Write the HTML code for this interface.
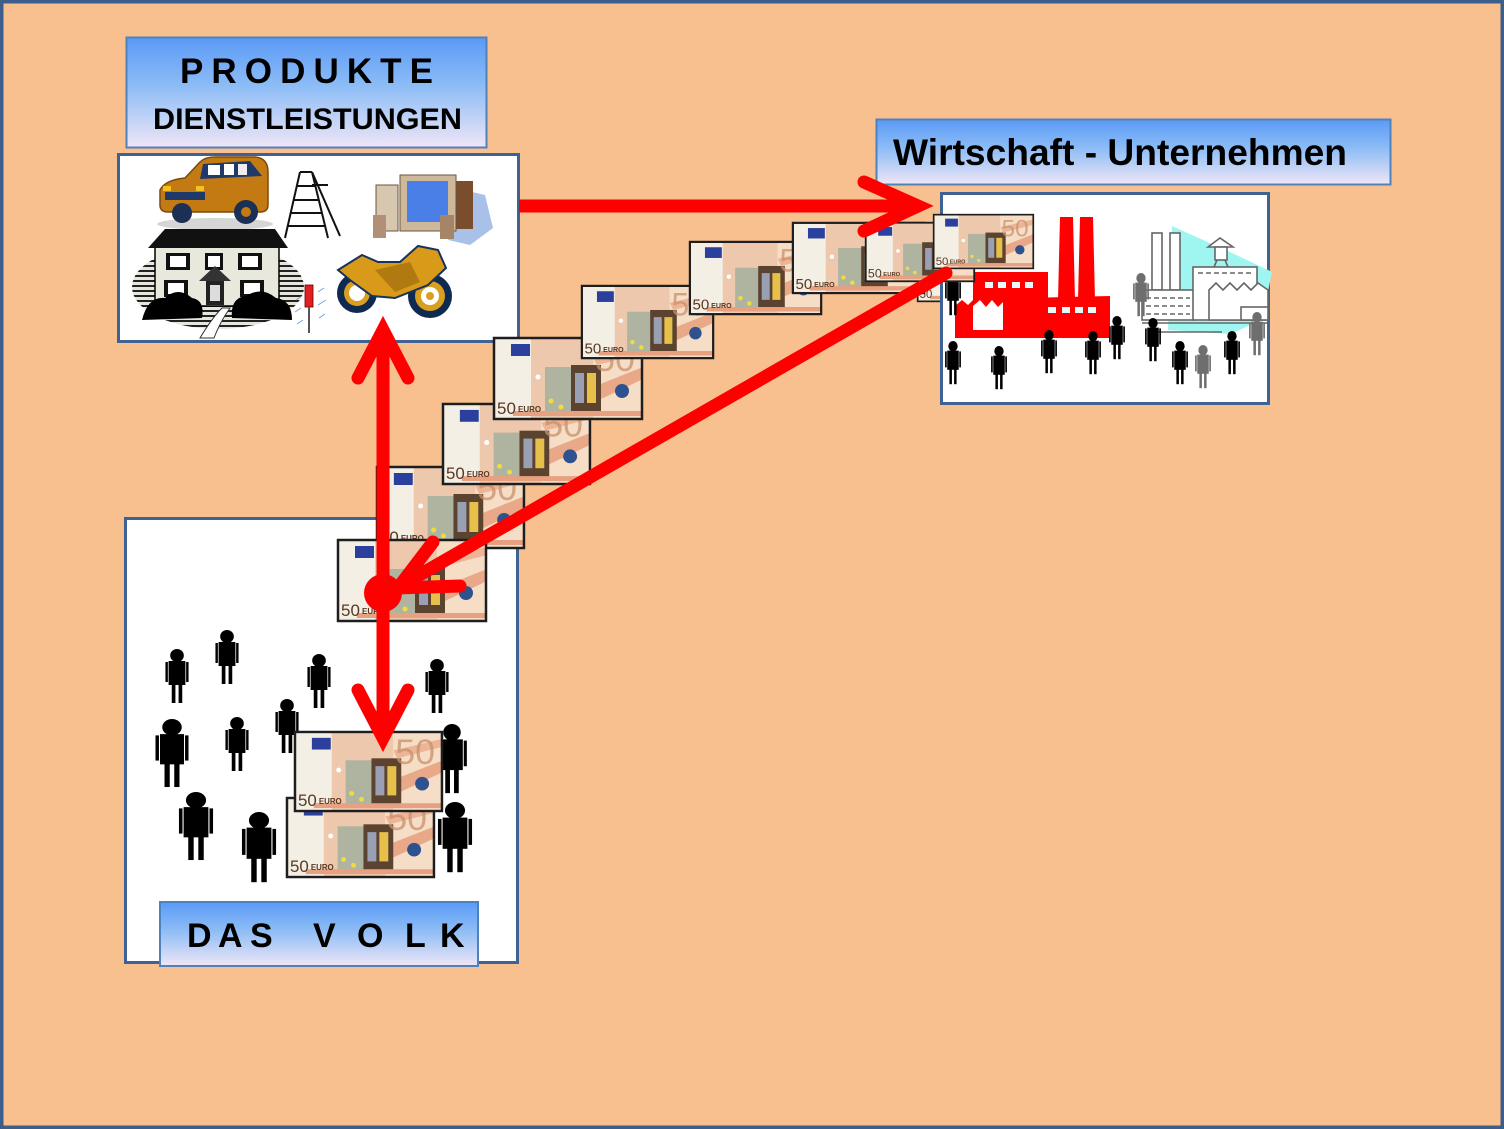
<!DOCTYPE html>
<html><head><meta charset="utf-8"><style>
html,body{margin:0;padding:0;background:#F9C08F;}
svg{display:block;}
text{font-family:"Liberation Sans",Arial,sans-serif;}
</style></head><body>
<svg width="1504" height="1129" viewBox="0 0 1504 1129" xmlns="http://www.w3.org/2000/svg">
<defs>
<linearGradient id="lg" x1="0" y1="0" x2="0" y2="1">
<stop offset="0" stop-color="#5A9AF6"/><stop offset="0.45" stop-color="#8EBDF6"/><stop offset="1" stop-color="#EFE6F6"/>
</linearGradient>
<pattern id="stripes" width="8" height="5" patternUnits="userSpaceOnUse">
<rect width="8" height="5" fill="#E6E6DC"/><rect y="0" width="8" height="2" fill="#222"/>
</pattern>
</defs>
<rect x="0" y="0" width="1504" height="1129" fill="#F9C08F"/>
<rect x="1.75" y="1.75" width="1500.5" height="1125.5" fill="none" stroke="#3D5E8B" stroke-width="3.5"/>

<!-- PRODUKTE label -->
<rect x="126.5" y="37.5" width="360" height="110" fill="url(#lg)" stroke="#4F81BD" stroke-width="2"/>
<text x="180" y="83" font-size="35" font-weight="bold" fill="#000" textLength="253" lengthAdjust="spacing">PRODUKTE</text>
<text x="153" y="129" font-size="30" font-weight="bold" fill="#000" textLength="309" lengthAdjust="spacingAndGlyphs">DIENSTLEISTUNGEN</text>

<!-- Products box -->
<rect x="118.5" y="154.5" width="400" height="187" fill="#fff" stroke="#3F6294" stroke-width="3"/>
<!-- van -->
<ellipse cx="215" cy="224" rx="58" ry="6" fill="#D6D6D6"/>
<path d="M160,205 L160,190 Q165,180 185,178 L200,162 Q205,157 215,157 L255,157 Q268,158 268,172 L268,205 Q268,212 260,212 L168,212 Q160,212 160,205 Z" fill="#C47A12" stroke="#7A4A0A" stroke-width="1.5"/>
<polygon points="203,164 250,161 262,176 200,179" fill="#1F3A6A"/>
<rect x="208" y="165" width="12" height="10" fill="#fff"/><rect x="224" y="164" width="10" height="11" fill="#fff"/><rect x="238" y="164" width="9" height="11" fill="#eee"/>
<rect x="165" y="192" width="40" height="8" fill="#1F3A6A"/>
<rect x="163" y="186" width="8" height="5" fill="#F2C020"/><rect x="196" y="186" width="8" height="5" fill="#F2C020"/>
<circle cx="182" cy="213" r="10" fill="#1C2F55"/><circle cx="246" cy="212" r="12" fill="#1C2F55"/>
<circle cx="246" cy="212" r="5" fill="#C47A12"/>
<!-- house -->
<ellipse cx="218" cy="287" rx="86" ry="42" fill="url(#stripes)"/>
<rect x="155" y="244" width="124" height="62" fill="#E8E8DC" stroke="#000" stroke-width="1.5"/>
<polygon points="148,248 165,229 275,229 288,248" fill="#111"/>
<rect x="166" y="253" width="24" height="17" fill="#111"/><rect x="170" y="256" width="16" height="11" fill="#fff"/>
<rect x="205" y="253" width="18" height="17" fill="#111"/><rect x="208" y="256" width="12" height="11" fill="#fff"/>
<rect x="238" y="253" width="24" height="17" fill="#111"/><rect x="242" y="256" width="16" height="11" fill="#fff"/>
<rect x="164" y="280" width="24" height="17" fill="#111"/><rect x="168" y="283" width="16" height="11" fill="#fff"/>
<rect x="240" y="280" width="24" height="17" fill="#111"/><rect x="244" y="283" width="16" height="11" fill="#fff"/>
<polygon points="199,281 215,266 231,281" fill="#333"/>
<rect x="206" y="281" width="18" height="24" fill="#222"/><rect x="210" y="285" width="10" height="16" fill="#ddd"/>
<path d="M142,320 Q148,296 165,298 Q178,286 192,298 Q205,300 202,318 Z" fill="#000"/>
<path d="M232,318 Q230,298 246,296 Q262,286 276,298 Q292,300 292,320 Z" fill="#000"/>
<path d="M200,338 Q212,318 222,308 L230,308 Q220,322 214,338 Z" fill="#fff" stroke="#333" stroke-width="1"/>
<!-- ladder -->
<g stroke="#111" stroke-width="2" fill="none">
<line x1="300" y1="172" x2="285" y2="238"/><line x1="312" y1="172" x2="328" y2="238"/>
<line x1="312" y1="172" x2="340" y2="236"/><line x1="300" y1="172" x2="312" y2="172"/>
<line x1="297" y1="186" x2="315" y2="186"/><line x1="294" y1="200" x2="318" y2="200"/>
<line x1="291" y1="213" x2="322" y2="213"/><line x1="288" y1="226" x2="325" y2="226"/>
<line x1="312" y1="185" x2="328" y2="185"/>
</g>
<!-- computer -->
<polygon points="455,188 485,195 493,228 470,245 448,240" fill="#A9C1E9"/>
<rect x="376" y="185" width="22" height="46" fill="#D7C7AE" stroke="#6B5440" stroke-width="1"/>
<rect x="455" y="181" width="18" height="48" fill="#7A4E2C"/>
<rect x="400" y="175" width="56" height="56" fill="#CDB89C" stroke="#6B5440" stroke-width="1"/>
<rect x="407" y="181" width="41" height="41" fill="#4A7FE8"/>
<rect x="373" y="215" width="13" height="23" fill="#B29078"/><rect x="440" y="215" width="14" height="24" fill="#A68468"/>
<!-- motorcycle -->
<circle cx="357" cy="293" r="20" fill="#0F2A50"/><circle cx="357" cy="293" r="13" fill="#D9A020"/><circle cx="357" cy="293" r="8" fill="#fff"/>
<circle cx="430" cy="296" r="22" fill="#0F2A50"/><circle cx="430" cy="296" r="15" fill="#D9A020"/><circle cx="430" cy="296" r="9" fill="#fff"/><circle cx="430" cy="296" r="4" fill="#D9A020"/>
<path d="M338,270 L362,255 L378,262 L400,262 L418,246 L438,250 L446,268 L428,285 L395,298 L372,296 L350,280 Z" fill="#D99A1A" stroke="#16325E" stroke-width="2"/>
<path d="M375,270 L410,262 L420,282 L395,292 Z" fill="#B07A10"/>
<!-- screwdriver -->
<rect x="305" y="285" width="8" height="22" fill="#E02020" stroke="#600" stroke-width="0.8"/>
<line x1="309" y1="307" x2="309" y2="333" stroke="#555" stroke-width="2"/>
<g stroke="#7AA0D8" stroke-width="1"><line x1="296" y1="300" x2="302" y2="296"/><line x1="295" y1="312" x2="301" y2="308"/><line x1="297" y1="324" x2="303" y2="320"/><line x1="318" y1="292" x2="324" y2="288"/><line x1="318" y1="305" x2="326" y2="300"/><line x1="319" y1="318" x2="325" y2="314"/></g>

<!-- Wirtschaft label -->
<rect x="876.5" y="119.5" width="514" height="65" fill="url(#lg)" stroke="#4F81BD" stroke-width="2"/>
<text x="893" y="165" font-size="37" font-weight="bold" fill="#000" textLength="454" lengthAdjust="spacingAndGlyphs">Wirtschaft - Unternehmen</text>

<!-- hidden note J -->
<g transform="translate(917,245) scale(0.667,0.687)">
<rect width="150" height="83" fill="#F3EFE4"/><rect x="38" width="62" height="83" fill="#EEC8AC"/><rect x="20" y="74" width="130" height="5" fill="#E7A080"/>
<text x="4" y="77" font-size="17" fill="#5A3822">50</text>
<rect x="1" y="1" width="148" height="81" fill="none" stroke="#1E1E1E" stroke-width="2.5"/></g>

<!-- Wirtschaft box -->
<rect x="941.5" y="193.5" width="327" height="210" fill="#fff" stroke="#3F6294" stroke-width="3"/>
<path d="M1172,226 C1212,244 1248,260 1272,272 L1262,320 L1230,334 L1168,330 Z" fill="#9FF6F1"/>
<g stroke="#666" stroke-width="1.6" fill="#fff">
<rect x="1152" y="233" width="10" height="57"/><rect x="1170" y="233" width="10" height="57"/>
<rect x="1142" y="290" width="52" height="30"/>
<rect x="1193" y="267" width="64" height="53"/>
<polygon points="1209,320 1209,290 1216,283 1223,290 1230,283 1237,290 1244,283 1251,290 1258,283 1268,290 1268,320"/>
<rect x="1241" y="307" width="27" height="13"/>
<polygon points="1208,247 1220,238 1233,247"/>
<rect x="1215" y="247" width="12" height="13"/>
<line x1="1217" y1="260" x2="1214" y2="267"/><line x1="1225" y1="260" x2="1228" y2="267"/>
<line x1="1142" y1="323" x2="1268" y2="323"/><line x1="1150" y1="332" x2="1222" y2="332"/>
</g>
<g stroke="#666" stroke-width="1.6" stroke-dasharray="5,3"><line x1="1198" y1="273" x2="1252" y2="273"/><line x1="1146" y1="298" x2="1190" y2="298"/><line x1="1146" y1="306" x2="1190" y2="306"/><line x1="1146" y1="314" x2="1190" y2="314"/></g>
<g fill="#FF0000">
<polygon points="1060,217 1073,217 1075,300 1058,300"/>
<polygon points="1080,217 1093,217 1095,300 1078,300"/>
<rect x="973" y="272" width="75" height="30"/>
<polygon points="955,338 955,306 962,300 968,305 973,300 1003,300 1025,298 1110,296 1110,338"/>
</g>
<polygon points="973,330 973,306 980,300 986,307 992,300 998,307 1003,302 1003,330" fill="#fff"/>
<g fill="#E8F8FF"><rect x="985" y="282" width="8" height="6"/><rect x="998" y="282" width="8" height="6"/><rect x="1012" y="282" width="8" height="6"/><rect x="1025" y="282" width="8" height="6"/>
<rect x="1048" y="307" width="8" height="6"/><rect x="1062" y="307" width="8" height="6"/><rect x="1075" y="307" width="8" height="6"/><rect x="1088" y="307" width="8" height="6"/></g>
<g fill="#000">
<g transform="translate(953,341) scale(0.72,0.8)"><circle cy="6.5" r="6.5"/><rect x="-8" y="12" width="16" height="24"/><rect x="-11" y="13" width="2.3" height="20"/><rect x="8.7" y="13" width="2.3" height="20"/><rect x="-5" y="35" width="3.5" height="19"/><rect x="1.5" y="35" width="3.5" height="19"/></g>
<g transform="translate(999,346) scale(0.72,0.8)"><circle cy="6.5" r="6.5"/><rect x="-8" y="12" width="16" height="24"/><rect x="-11" y="13" width="2.3" height="20"/><rect x="8.7" y="13" width="2.3" height="20"/><rect x="-5" y="35" width="3.5" height="19"/><rect x="1.5" y="35" width="3.5" height="19"/></g>
<g transform="translate(1049,330) scale(0.72,0.8)"><circle cy="6.5" r="6.5"/><rect x="-8" y="12" width="16" height="24"/><rect x="-11" y="13" width="2.3" height="20"/><rect x="8.7" y="13" width="2.3" height="20"/><rect x="-5" y="35" width="3.5" height="19"/><rect x="1.5" y="35" width="3.5" height="19"/></g>
<g transform="translate(1093,331) scale(0.72,0.8)"><circle cy="6.5" r="6.5"/><rect x="-8" y="12" width="16" height="24"/><rect x="-11" y="13" width="2.3" height="20"/><rect x="8.7" y="13" width="2.3" height="20"/><rect x="-5" y="35" width="3.5" height="19"/><rect x="1.5" y="35" width="3.5" height="19"/></g>
<g transform="translate(1117,316) scale(0.72,0.8)"><circle cy="6.5" r="6.5"/><rect x="-8" y="12" width="16" height="24"/><rect x="-11" y="13" width="2.3" height="20"/><rect x="8.7" y="13" width="2.3" height="20"/><rect x="-5" y="35" width="3.5" height="19"/><rect x="1.5" y="35" width="3.5" height="19"/></g>
<g transform="translate(1180,341) scale(0.72,0.8)"><circle cy="6.5" r="6.5"/><rect x="-8" y="12" width="16" height="24"/><rect x="-11" y="13" width="2.3" height="20"/><rect x="8.7" y="13" width="2.3" height="20"/><rect x="-5" y="35" width="3.5" height="19"/><rect x="1.5" y="35" width="3.5" height="19"/></g>
<g transform="translate(1232,331) scale(0.72,0.8)"><circle cy="6.5" r="6.5"/><rect x="-8" y="12" width="16" height="24"/><rect x="-11" y="13" width="2.3" height="20"/><rect x="8.7" y="13" width="2.3" height="20"/><rect x="-5" y="35" width="3.5" height="19"/><rect x="1.5" y="35" width="3.5" height="19"/></g>
<g transform="translate(1153,318) scale(0.72,0.8)"><circle cy="6.5" r="6.5"/><rect x="-8" y="12" width="16" height="24"/><rect x="-11" y="13" width="2.3" height="20"/><rect x="8.7" y="13" width="2.3" height="20"/><rect x="-5" y="35" width="3.5" height="19"/><rect x="1.5" y="35" width="3.5" height="19"/></g>
<g transform="translate(953,272) scale(0.72,0.8)"><circle cy="6.5" r="6.5"/><rect x="-8" y="12" width="16" height="24"/><rect x="-11" y="13" width="2.3" height="20"/><rect x="8.7" y="13" width="2.3" height="20"/><rect x="-5" y="35" width="3.5" height="19"/><rect x="1.5" y="35" width="3.5" height="19"/></g>
</g>
<g fill="#6E6E6E">
<g transform="translate(1203,345) scale(0.72,0.8)"><circle cy="6.5" r="6.5"/><rect x="-8" y="12" width="16" height="24"/><rect x="-11" y="13" width="2.3" height="20"/><rect x="8.7" y="13" width="2.3" height="20"/><rect x="-5" y="35" width="3.5" height="19"/><rect x="1.5" y="35" width="3.5" height="19"/></g>
<g transform="translate(1257,312) scale(0.72,0.8)"><circle cy="6.5" r="6.5"/><rect x="-8" y="12" width="16" height="24"/><rect x="-11" y="13" width="2.3" height="20"/><rect x="8.7" y="13" width="2.3" height="20"/><rect x="-5" y="35" width="3.5" height="19"/><rect x="1.5" y="35" width="3.5" height="19"/></g>
<g transform="translate(1141,273) scale(0.72,0.8)"><circle cy="6.5" r="6.5"/><rect x="-8" y="12" width="16" height="24"/><rect x="-11" y="13" width="2.3" height="20"/><rect x="8.7" y="13" width="2.3" height="20"/><rect x="-5" y="35" width="3.5" height="19"/><rect x="1.5" y="35" width="3.5" height="19"/></g>
</g>

<!-- Volk box -->
<rect x="125.5" y="518.5" width="392" height="444" fill="#fff" stroke="#3F6294" stroke-width="3"/>
<g fill="#000">
<g transform="translate(177,649) scale(1.05,1)"><circle cy="6.5" r="6.5"/><rect x="-8" y="12" width="16" height="24"/><rect x="-11" y="13" width="2.3" height="20"/><rect x="8.7" y="13" width="2.3" height="20"/><rect x="-5" y="35" width="3.5" height="19"/><rect x="1.5" y="35" width="3.5" height="19"/></g>
<g transform="translate(227,630) scale(1.05,1)"><circle cy="6.5" r="6.5"/><rect x="-8" y="12" width="16" height="24"/><rect x="-11" y="13" width="2.3" height="20"/><rect x="8.7" y="13" width="2.3" height="20"/><rect x="-5" y="35" width="3.5" height="19"/><rect x="1.5" y="35" width="3.5" height="19"/></g>
<g transform="translate(319,654) scale(1.05,1)"><circle cy="6.5" r="6.5"/><rect x="-8" y="12" width="16" height="24"/><rect x="-11" y="13" width="2.3" height="20"/><rect x="8.7" y="13" width="2.3" height="20"/><rect x="-5" y="35" width="3.5" height="19"/><rect x="1.5" y="35" width="3.5" height="19"/></g>
<g transform="translate(437,659) scale(1.05,1)"><circle cy="6.5" r="6.5"/><rect x="-8" y="12" width="16" height="24"/><rect x="-11" y="13" width="2.3" height="20"/><rect x="8.7" y="13" width="2.3" height="20"/><rect x="-5" y="35" width="3.5" height="19"/><rect x="1.5" y="35" width="3.5" height="19"/></g>
<g transform="translate(287,699) scale(1.05,1)"><circle cy="6.5" r="6.5"/><rect x="-8" y="12" width="16" height="24"/><rect x="-11" y="13" width="2.3" height="20"/><rect x="8.7" y="13" width="2.3" height="20"/><rect x="-5" y="35" width="3.5" height="19"/><rect x="1.5" y="35" width="3.5" height="19"/></g>
<g transform="translate(237,717) scale(1.05,1)"><circle cy="6.5" r="6.5"/><rect x="-8" y="12" width="16" height="24"/><rect x="-11" y="13" width="2.3" height="20"/><rect x="8.7" y="13" width="2.3" height="20"/><rect x="-5" y="35" width="3.5" height="19"/><rect x="1.5" y="35" width="3.5" height="19"/></g>
<g transform="translate(172,719) scale(1.5,1.26)"><circle cy="6.5" r="6.5"/><rect x="-8" y="12" width="16" height="24"/><rect x="-11" y="13" width="2.3" height="20"/><rect x="8.7" y="13" width="2.3" height="20"/><rect x="-5" y="35" width="3.5" height="19"/><rect x="1.5" y="35" width="3.5" height="19"/></g>
<g transform="translate(452,724) scale(1.35,1.28)"><circle cy="6.5" r="6.5"/><rect x="-8" y="12" width="16" height="24"/><rect x="-11" y="13" width="2.3" height="20"/><rect x="8.7" y="13" width="2.3" height="20"/><rect x="-5" y="35" width="3.5" height="19"/><rect x="1.5" y="35" width="3.5" height="19"/></g>
<g transform="translate(196,792) scale(1.55,1.26)"><circle cy="6.5" r="6.5"/><rect x="-8" y="12" width="16" height="24"/><rect x="-11" y="13" width="2.3" height="20"/><rect x="8.7" y="13" width="2.3" height="20"/><rect x="-5" y="35" width="3.5" height="19"/><rect x="1.5" y="35" width="3.5" height="19"/></g>
<g transform="translate(259,812) scale(1.55,1.3)"><circle cy="6.5" r="6.5"/><rect x="-8" y="12" width="16" height="24"/><rect x="-11" y="13" width="2.3" height="20"/><rect x="8.7" y="13" width="2.3" height="20"/><rect x="-5" y="35" width="3.5" height="19"/><rect x="1.5" y="35" width="3.5" height="19"/></g>
<g transform="translate(455,802) scale(1.55,1.3)"><circle cy="6.5" r="6.5"/><rect x="-8" y="12" width="16" height="24"/><rect x="-11" y="13" width="2.3" height="20"/><rect x="8.7" y="13" width="2.3" height="20"/><rect x="-5" y="35" width="3.5" height="19"/><rect x="1.5" y="35" width="3.5" height="19"/></g>
</g>

<!-- notes in Volk -->
<g transform="translate(286,797) scale(0.993,0.976)">
<rect width="150" height="83" fill="#F3EFE4"/><rect x="38" width="62" height="83" fill="#EEC8AC"/><rect x="100" width="50" height="83" fill="#F6DDC6"/>
<polygon points="100,50 150,30 150,42 108,62" fill="#E9A888"/><polygon points="100,20 150,8 150,16 104,28" fill="#EDB496"/>
<rect x="52" y="30" width="34" height="46" fill="#AEB4A0"/><rect x="78" y="28" width="30" height="48" fill="#5C4330"/><rect x="82" y="36" width="9" height="30" fill="#9AA0B4"/><rect x="94" y="36" width="9" height="30" fill="#E6C04A"/>
<text x="102" y="34" font-size="36" fill="#C8906C" opacity="0.75">50</text>
<rect x="18" y="7" width="19" height="12" fill="#2B3F9C"/><rect x="20" y="74" width="130" height="5" fill="#E7A080"/><circle cx="129" cy="54" r="7" fill="#2E528E"/>
<circle cx="58" cy="64" r="2.5" fill="#F0DC40"/><circle cx="68" cy="70" r="2.5" fill="#F0DC40"/><circle cx="45" cy="40" r="2.5" fill="#fff"/>
<text x="4" y="77" font-size="17" fill="#5A3822">50</text><text x="25" y="75" font-size="8" font-weight="bold" fill="#5A3822">EURO</text>
<rect x="1" y="1" width="148" height="81" fill="none" stroke="#1E1E1E" stroke-width="2.5"/></g>
<g transform="translate(294,731) scale(0.993,0.976)">
<rect width="150" height="83" fill="#F3EFE4"/><rect x="38" width="62" height="83" fill="#EEC8AC"/><rect x="100" width="50" height="83" fill="#F6DDC6"/>
<polygon points="100,50 150,30 150,42 108,62" fill="#E9A888"/><polygon points="100,20 150,8 150,16 104,28" fill="#EDB496"/>
<rect x="52" y="30" width="34" height="46" fill="#AEB4A0"/><rect x="78" y="28" width="30" height="48" fill="#5C4330"/><rect x="82" y="36" width="9" height="30" fill="#9AA0B4"/><rect x="94" y="36" width="9" height="30" fill="#E6C04A"/>
<text x="102" y="34" font-size="36" fill="#C8906C" opacity="0.75">50</text>
<rect x="18" y="7" width="19" height="12" fill="#2B3F9C"/><rect x="20" y="74" width="130" height="5" fill="#E7A080"/><circle cx="129" cy="54" r="7" fill="#2E528E"/>
<circle cx="58" cy="64" r="2.5" fill="#F0DC40"/><circle cx="68" cy="70" r="2.5" fill="#F0DC40"/><circle cx="45" cy="40" r="2.5" fill="#fff"/>
<text x="4" y="77" font-size="17" fill="#5A3822">50</text><text x="25" y="75" font-size="8" font-weight="bold" fill="#5A3822">EURO</text>
<rect x="1" y="1" width="148" height="81" fill="none" stroke="#1E1E1E" stroke-width="2.5"/></g>

<!-- DAS VOLK label -->
<rect x="160" y="902" width="318" height="64" fill="url(#lg)" stroke="#4F81BD" stroke-width="2"/>
<text y="947" font-size="34" font-weight="bold" fill="#000"><tspan x="187">D</tspan><tspan x="218">A</tspan><tspan x="250">S</tspan><tspan x="313">V</tspan><tspan x="357">O</tspan><tspan x="405">L</tspan><tspan x="440">K</tspan></text>

<!-- staircase notes -->
<g transform="translate(376,466) scale(0.993,1)">
<rect width="150" height="83" fill="#F3EFE4"/><rect x="38" width="62" height="83" fill="#EEC8AC"/><rect x="100" width="50" height="83" fill="#F6DDC6"/>
<polygon points="100,50 150,30 150,42 108,62" fill="#E9A888"/><polygon points="100,20 150,8 150,16 104,28" fill="#EDB496"/>
<rect x="52" y="30" width="34" height="46" fill="#AEB4A0"/><rect x="78" y="28" width="30" height="48" fill="#5C4330"/><rect x="82" y="36" width="9" height="30" fill="#9AA0B4"/><rect x="94" y="36" width="9" height="30" fill="#E6C04A"/>
<text x="102" y="34" font-size="36" fill="#C8906C" opacity="0.75">50</text>
<rect x="18" y="7" width="19" height="12" fill="#2B3F9C"/><rect x="20" y="74" width="130" height="5" fill="#E7A080"/><circle cx="129" cy="54" r="7" fill="#2E528E"/>
<circle cx="58" cy="64" r="2.5" fill="#F0DC40"/><circle cx="68" cy="70" r="2.5" fill="#F0DC40"/><circle cx="45" cy="40" r="2.5" fill="#fff"/>
<text x="4" y="77" font-size="17" fill="#5A3822">50</text><text x="25" y="75" font-size="8" font-weight="bold" fill="#5A3822">EURO</text>
<rect x="1" y="1" width="148" height="81" fill="none" stroke="#1E1E1E" stroke-width="2.5"/></g>
<g transform="translate(442,403) scale(0.993,0.988)">
<rect width="150" height="83" fill="#F3EFE4"/><rect x="38" width="62" height="83" fill="#EEC8AC"/><rect x="100" width="50" height="83" fill="#F6DDC6"/>
<polygon points="100,50 150,30 150,42 108,62" fill="#E9A888"/><polygon points="100,20 150,8 150,16 104,28" fill="#EDB496"/>
<rect x="52" y="30" width="34" height="46" fill="#AEB4A0"/><rect x="78" y="28" width="30" height="48" fill="#5C4330"/><rect x="82" y="36" width="9" height="30" fill="#9AA0B4"/><rect x="94" y="36" width="9" height="30" fill="#E6C04A"/>
<text x="102" y="34" font-size="36" fill="#C8906C" opacity="0.75">50</text>
<rect x="18" y="7" width="19" height="12" fill="#2B3F9C"/><rect x="20" y="74" width="130" height="5" fill="#E7A080"/><circle cx="129" cy="54" r="7" fill="#2E528E"/>
<circle cx="58" cy="64" r="2.5" fill="#F0DC40"/><circle cx="68" cy="70" r="2.5" fill="#F0DC40"/><circle cx="45" cy="40" r="2.5" fill="#fff"/>
<text x="4" y="77" font-size="17" fill="#5A3822">50</text><text x="25" y="75" font-size="8" font-weight="bold" fill="#5A3822">EURO</text>
<rect x="1" y="1" width="148" height="81" fill="none" stroke="#1E1E1E" stroke-width="2.5"/></g>
<g transform="translate(493,337)">
<rect width="150" height="83" fill="#F3EFE4"/><rect x="38" width="62" height="83" fill="#EEC8AC"/><rect x="100" width="50" height="83" fill="#F6DDC6"/>
<polygon points="100,50 150,30 150,42 108,62" fill="#E9A888"/><polygon points="100,20 150,8 150,16 104,28" fill="#EDB496"/>
<rect x="52" y="30" width="34" height="46" fill="#AEB4A0"/><rect x="78" y="28" width="30" height="48" fill="#5C4330"/><rect x="82" y="36" width="9" height="30" fill="#9AA0B4"/><rect x="94" y="36" width="9" height="30" fill="#E6C04A"/>
<text x="102" y="34" font-size="36" fill="#C8906C" opacity="0.75">50</text>
<rect x="18" y="7" width="19" height="12" fill="#2B3F9C"/><rect x="20" y="74" width="130" height="5" fill="#E7A080"/><circle cx="129" cy="54" r="7" fill="#2E528E"/>
<circle cx="58" cy="64" r="2.5" fill="#F0DC40"/><circle cx="68" cy="70" r="2.5" fill="#F0DC40"/><circle cx="45" cy="40" r="2.5" fill="#fff"/>
<text x="4" y="77" font-size="17" fill="#5A3822">50</text><text x="25" y="75" font-size="8" font-weight="bold" fill="#5A3822">EURO</text>
<rect x="1" y="1" width="148" height="81" fill="none" stroke="#1E1E1E" stroke-width="2.5"/></g>
<g transform="translate(581,285) scale(0.887,0.892)">
<rect width="150" height="83" fill="#F3EFE4"/><rect x="38" width="62" height="83" fill="#EEC8AC"/><rect x="100" width="50" height="83" fill="#F6DDC6"/>
<polygon points="100,50 150,30 150,42 108,62" fill="#E9A888"/><polygon points="100,20 150,8 150,16 104,28" fill="#EDB496"/>
<rect x="52" y="30" width="34" height="46" fill="#AEB4A0"/><rect x="78" y="28" width="30" height="48" fill="#5C4330"/><rect x="82" y="36" width="9" height="30" fill="#9AA0B4"/><rect x="94" y="36" width="9" height="30" fill="#E6C04A"/>
<text x="102" y="34" font-size="36" fill="#C8906C" opacity="0.75">50</text>
<rect x="18" y="7" width="19" height="12" fill="#2B3F9C"/><rect x="20" y="74" width="130" height="5" fill="#E7A080"/><circle cx="129" cy="54" r="7" fill="#2E528E"/>
<circle cx="58" cy="64" r="2.5" fill="#F0DC40"/><circle cx="68" cy="70" r="2.5" fill="#F0DC40"/><circle cx="45" cy="40" r="2.5" fill="#fff"/>
<text x="4" y="77" font-size="17" fill="#5A3822">50</text><text x="25" y="75" font-size="8" font-weight="bold" fill="#5A3822">EURO</text>
<rect x="1" y="1" width="148" height="81" fill="none" stroke="#1E1E1E" stroke-width="2.5"/></g>
<g transform="translate(689,241) scale(0.887,0.892)">
<rect width="150" height="83" fill="#F3EFE4"/><rect x="38" width="62" height="83" fill="#EEC8AC"/><rect x="100" width="50" height="83" fill="#F6DDC6"/>
<polygon points="100,50 150,30 150,42 108,62" fill="#E9A888"/><polygon points="100,20 150,8 150,16 104,28" fill="#EDB496"/>
<rect x="52" y="30" width="34" height="46" fill="#AEB4A0"/><rect x="78" y="28" width="30" height="48" fill="#5C4330"/><rect x="82" y="36" width="9" height="30" fill="#9AA0B4"/><rect x="94" y="36" width="9" height="30" fill="#E6C04A"/>
<text x="102" y="34" font-size="36" fill="#C8906C" opacity="0.75">50</text>
<rect x="18" y="7" width="19" height="12" fill="#2B3F9C"/><rect x="20" y="74" width="130" height="5" fill="#E7A080"/><circle cx="129" cy="54" r="7" fill="#2E528E"/>
<circle cx="58" cy="64" r="2.5" fill="#F0DC40"/><circle cx="68" cy="70" r="2.5" fill="#F0DC40"/><circle cx="45" cy="40" r="2.5" fill="#fff"/>
<text x="4" y="77" font-size="17" fill="#5A3822">50</text><text x="25" y="75" font-size="8" font-weight="bold" fill="#5A3822">EURO</text>
<rect x="1" y="1" width="148" height="81" fill="none" stroke="#1E1E1E" stroke-width="2.5"/></g>
<g transform="translate(792,222) scale(0.887,0.867)">
<rect width="150" height="83" fill="#F3EFE4"/><rect x="38" width="62" height="83" fill="#EEC8AC"/><rect x="100" width="50" height="83" fill="#F6DDC6"/>
<polygon points="100,50 150,30 150,42 108,62" fill="#E9A888"/><polygon points="100,20 150,8 150,16 104,28" fill="#EDB496"/>
<rect x="52" y="30" width="34" height="46" fill="#AEB4A0"/><rect x="78" y="28" width="30" height="48" fill="#5C4330"/><rect x="82" y="36" width="9" height="30" fill="#9AA0B4"/><rect x="94" y="36" width="9" height="30" fill="#E6C04A"/>
<text x="102" y="34" font-size="36" fill="#C8906C" opacity="0.75">50</text>
<rect x="18" y="7" width="19" height="12" fill="#2B3F9C"/><rect x="20" y="74" width="130" height="5" fill="#E7A080"/><circle cx="129" cy="54" r="7" fill="#2E528E"/>
<circle cx="58" cy="64" r="2.5" fill="#F0DC40"/><circle cx="68" cy="70" r="2.5" fill="#F0DC40"/><circle cx="45" cy="40" r="2.5" fill="#fff"/>
<text x="4" y="77" font-size="17" fill="#5A3822">50</text><text x="25" y="75" font-size="8" font-weight="bold" fill="#5A3822">EURO</text>
<rect x="1" y="1" width="148" height="81" fill="none" stroke="#1E1E1E" stroke-width="2.5"/></g>
<g transform="translate(865,222) scale(0.733,0.723)">
<rect width="150" height="83" fill="#F3EFE4"/><rect x="38" width="62" height="83" fill="#EEC8AC"/><rect x="100" width="50" height="83" fill="#F6DDC6"/>
<polygon points="100,50 150,30 150,42 108,62" fill="#E9A888"/><polygon points="100,20 150,8 150,16 104,28" fill="#EDB496"/>
<rect x="52" y="30" width="34" height="46" fill="#AEB4A0"/><rect x="78" y="28" width="30" height="48" fill="#5C4330"/><rect x="82" y="36" width="9" height="30" fill="#9AA0B4"/><rect x="94" y="36" width="9" height="30" fill="#E6C04A"/>
<text x="102" y="34" font-size="36" fill="#C8906C" opacity="0.75">50</text>
<rect x="18" y="7" width="19" height="12" fill="#2B3F9C"/><rect x="20" y="74" width="130" height="5" fill="#E7A080"/><circle cx="129" cy="54" r="7" fill="#2E528E"/>
<circle cx="58" cy="64" r="2.5" fill="#F0DC40"/><circle cx="68" cy="70" r="2.5" fill="#F0DC40"/><circle cx="45" cy="40" r="2.5" fill="#fff"/>
<text x="4" y="77" font-size="17" fill="#5A3822">50</text><text x="25" y="75" font-size="8" font-weight="bold" fill="#5A3822">EURO</text>
<rect x="1" y="1" width="148" height="81" fill="none" stroke="#1E1E1E" stroke-width="2.5"/></g>
<g transform="translate(933,214) scale(0.673,0.663)">
<rect width="150" height="83" fill="#F3EFE4"/><rect x="38" width="62" height="83" fill="#EEC8AC"/><rect x="100" width="50" height="83" fill="#F6DDC6"/>
<polygon points="100,50 150,30 150,42 108,62" fill="#E9A888"/><polygon points="100,20 150,8 150,16 104,28" fill="#EDB496"/>
<rect x="52" y="30" width="34" height="46" fill="#AEB4A0"/><rect x="78" y="28" width="30" height="48" fill="#5C4330"/><rect x="82" y="36" width="9" height="30" fill="#9AA0B4"/><rect x="94" y="36" width="9" height="30" fill="#E6C04A"/>
<text x="102" y="34" font-size="36" fill="#C8906C" opacity="0.75">50</text>
<rect x="18" y="7" width="19" height="12" fill="#2B3F9C"/><rect x="20" y="74" width="130" height="5" fill="#E7A080"/><circle cx="129" cy="54" r="7" fill="#2E528E"/>
<circle cx="58" cy="64" r="2.5" fill="#F0DC40"/><circle cx="68" cy="70" r="2.5" fill="#F0DC40"/><circle cx="45" cy="40" r="2.5" fill="#fff"/>
<text x="4" y="77" font-size="17" fill="#5A3822">50</text><text x="25" y="75" font-size="8" font-weight="bold" fill="#5A3822">EURO</text>
<rect x="1" y="1" width="148" height="81" fill="none" stroke="#1E1E1E" stroke-width="2.5"/></g>
<g transform="translate(337,539)">
<rect width="150" height="83" fill="#F3EFE4"/><rect x="38" width="62" height="83" fill="#EEC8AC"/><rect x="100" width="50" height="83" fill="#F6DDC6"/>
<polygon points="100,50 150,30 150,42 108,62" fill="#E9A888"/><polygon points="100,20 150,8 150,16 104,28" fill="#EDB496"/>
<rect x="52" y="30" width="34" height="46" fill="#AEB4A0"/><rect x="78" y="28" width="30" height="48" fill="#5C4330"/><rect x="82" y="36" width="9" height="30" fill="#9AA0B4"/><rect x="94" y="36" width="9" height="30" fill="#E6C04A"/>
<rect x="18" y="7" width="19" height="12" fill="#2B3F9C"/><rect x="20" y="74" width="130" height="5" fill="#E7A080"/><circle cx="129" cy="54" r="7" fill="#2E528E"/>
<circle cx="58" cy="64" r="2.5" fill="#F0DC40"/><circle cx="68" cy="70" r="2.5" fill="#F0DC40"/><circle cx="45" cy="40" r="2.5" fill="#fff"/>
<text x="4" y="77" font-size="17" fill="#5A3822">50</text><text x="25" y="75" font-size="8" font-weight="bold" fill="#5A3822">EURO</text>
<rect x="1" y="1" width="148" height="81" fill="none" stroke="#1E1E1E" stroke-width="2.5"/></g>

<!-- arrows -->
<g stroke="#FF0000" stroke-width="13" fill="none" stroke-linecap="round" stroke-linejoin="miter">
<line x1="519" y1="206" x2="912" y2="206" stroke-linecap="butt"/>
<polyline points="864,182 918,206 864,231"/>
<line x1="383" y1="335" x2="383" y2="735" stroke-linecap="butt"/>
<polyline points="358,378 383,330 408,378"/>
<polyline points="358,690 383,738 408,690"/>
<line x1="946" y1="273" x2="402" y2="585"/>
<polyline points="433,542 398,588 460,586"/>
</g>
<circle cx="383" cy="593" r="19" fill="#FF0000"/>
</svg>
</body></html>
